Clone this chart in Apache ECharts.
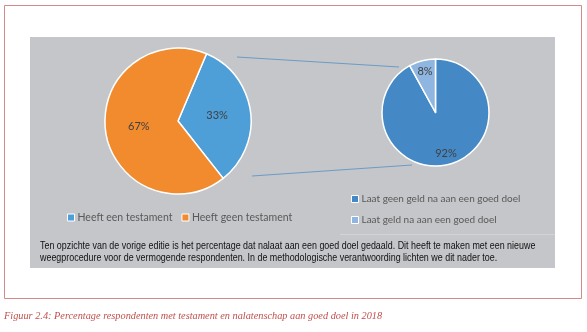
<!DOCTYPE html>
<html>
<head>
<meta charset="utf-8">
<script src="https://cdn.jsdelivr.net/npm/echarts@6/dist/echarts.min.js"></script>
<style>
html,body{margin:0;padding:0;background:#fff;}
#chart{width:587px;height:332px;}
</style>
</head>
<body>
<div id="chart"></div>
<script>
// ---- data ----
const testamentCategories = ['Heeft een testament', 'Heeft geen testament'];
const testamentValues = [33, 67];
const goedDoelCategories = ['Laat geen geld na aan een goed doel', 'Laat geld na aan een goed doel'];
const goedDoelValues = [92, 8];
const noteLines = [
  'Ten opzichte van de vorige editie is het percentage dat nalaat aan een goed doel gedaald. Dit heeft te maken met een nieuwe',
  'weegprocedure voor de vermogende respondenten. In de methodologische verantwoording lichten we dit nader toe.'
];
const captionText = 'Figuur 2.4: Percentage respondenten met testament en nalatenschap aan goed doel in 2018';

const leftColors = ['#4E9ED8', '#F28B2E'];
const rightColors = ['#4489C6', '#8FB6E1'];
const labelFont = 'Lato, "Noto Sans", sans-serif';

const chart = echarts.init(document.getElementById('chart'), null, {renderer: 'canvas'});

function toData(cats, vals, colors) {
  return cats.map((c, i) => ({name: c, value: vals[i], itemStyle: {color: colors[i]}}));
}

const option = {
  animation: false,
  backgroundColor: '#ffffff',
  graphic: [
    {type: 'rect', shape: {x: 4.5, y: 5.5, width: 577, height: 293}, style: {fill: 'none', stroke: '#D48A8A', lineWidth: 1}, z: -10},
    {type: 'rect', shape: {x: 30, y: 37, width: 525, height: 231}, style: {fill: '#C5C6C9'}, z: -9},
    {type: 'line', shape: {x1: 340, y1: 234.5, x2: 555, y2: 234.5}, style: {stroke: '#D3D4D6', lineWidth: 1}, z: -8},
    {type: 'line', shape: {x1: 237, y1: 57, x2: 399, y2: 67}, style: {stroke: '#6B9BC6', lineWidth: 1}, z: -8},
    {type: 'line', shape: {x1: 252, y1: 176, x2: 412, y2: 165}, style: {stroke: '#6B9BC6', lineWidth: 1}, z: -8},
    {type: 'text', x: 40, y: 240, scaleX: 0.81, originX: 0, style: {text: noteLines.join('\n'), fill: '#111111', font: '11px "Liberation Sans", Arial, sans-serif', lineHeight: 12}},
    {type: 'text', left: 4, top: 311, style: {text: captionText, fill: '#C0504D', font: 'italic 10.3px "Liberation Serif", "DejaVu Serif", serif'}}
  ],
  legend: [
    {
      data: testamentCategories,
      left: 67, top: 212, padding: 0,
      orient: 'horizontal',
      icon: 'rect', itemWidth: 7, itemHeight: 7, itemGap: 9,
      itemStyle: {borderColor: '#ffffff', borderWidth: 1},
      textStyle: {color: '#595959', fontSize: 10.5, fontFamily: labelFont, padding: [0, 0, 0, -2]}
    },
    {
      data: goedDoelCategories,
      left: 351, top: 194, padding: 0,
      orient: 'vertical',
      icon: 'rect', itemWidth: 7, itemHeight: 7, itemGap: 11,
      itemStyle: {borderColor: '#ffffff', borderWidth: 1},
      textStyle: {color: '#595959', fontSize: 10, fontFamily: labelFont, padding: [0, 0, 0, -2]}
    }
  ],
  series: [
    {
      type: 'pie',
      center: [178, 121], radius: 73,
      startAngle: 67, clockwise: true,
      data: toData(testamentCategories, testamentValues, leftColors),
      itemStyle: {borderColor: '#ffffff', borderWidth: 1.5},
      label: {show: true, position: 'inside', formatter: '{c}%', color: '#404040', fontSize: 11, fontFamily: labelFont},
      labelLine: {show: false},
      silent: true
    },
    {
      type: 'pie',
      center: [435.5, 112.5], radius: 53.5,
      startAngle: 90, clockwise: true,
      data: toData(goedDoelCategories, goedDoelValues, rightColors),
      itemStyle: {borderColor: '#ffffff', borderWidth: 1.5},
      label: {show: false},
      labelLine: {show: false},
      silent: true
    },
    {
      // label-only layer for the right pie (labels sit further out)
      type: 'pie',
      center: [435.5, 112.5], radius: 78,
      startAngle: 90, clockwise: true,
      data: goedDoelCategories.map((c, i) => ({name: c, value: goedDoelValues[i], itemStyle: {color: 'rgba(0,0,0,0)'}})),
      itemStyle: {borderWidth: 0},
      label: {show: true, position: 'inside', formatter: '{c}%', color: '#404040', fontSize: 11, fontFamily: labelFont},
      labelLine: {show: false},
      silent: true,
      z: 5
    }
  ]
};
chart.setOption(option);
</script>
</body>
</html>
